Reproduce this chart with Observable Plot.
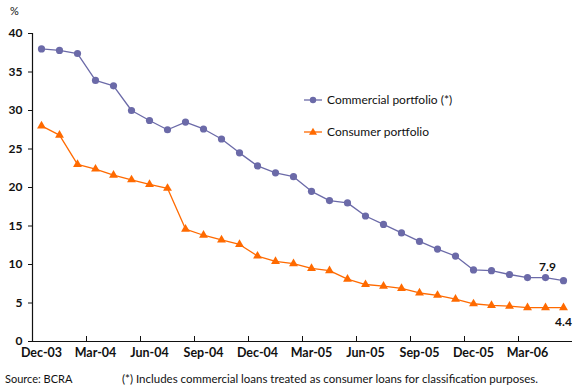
<!DOCTYPE html>
<html>
<head>
<meta charset="utf-8">
<script src="https://cdn.jsdelivr.net/npm/d3@7"></script>
<script src="https://cdn.jsdelivr.net/npm/@observablehq/plot@0.6"></script>
<style>
  html, body { margin: 0; padding: 0; background: #fff; }
  #wrap { position: relative; width: 573px; height: 388px; font-family: Lato, "DejaVu Sans", sans-serif; color: #111; }
  #wrap svg { display: block; }
  .note { position: absolute; font-size: 11px; white-space: nowrap; }
  .legend { position: absolute; left: 303px; font-size: 12px; white-space: nowrap; display: flex; align-items: center; }
  .legend svg { margin-right: 4px; }
</style>
</head>
<body>
<div id="wrap"></div>
<script>
// Monthly observations, Dec-03 to May-06
const months = [
  "Dec-03","Jan-04","Feb-04","Mar-04","Apr-04","May-04","Jun-04","Jul-04","Aug-04","Sep-04",
  "Oct-04","Nov-04","Dec-04","Jan-05","Feb-05","Mar-05","Apr-05","May-05","Jun-05","Jul-05",
  "Aug-05","Sep-05","Oct-05","Nov-05","Dec-05","Jan-06","Feb-06","Mar-06","Apr-06","May-06"
];
// Commercial portfolio (%)
const commercial = [
  38.0, 37.8, 37.4, 33.9, 33.2, 30.0, 28.7, 27.5, 28.5, 27.6,
  26.3, 24.5, 22.8, 21.9, 21.4, 19.5, 18.3, 18.0, 16.3, 15.2,
  14.1, 13.0, 12.0, 11.1, 9.3, 9.2, 8.7, 8.3, 8.3, 7.9
];
// Consumer portfolio (%)
const consumer = [
  28.0, 26.8, 23.0, 22.4, 21.6, 21.0, 20.4, 19.9, 14.6, 13.8,
  13.2, 12.6, 11.1, 10.4, 10.1, 9.5, 9.2, 8.1, 7.4, 7.2,
  6.9, 6.3, 6.0, 5.5, 4.9, 4.7, 4.6, 4.4, 4.4, 4.4
];
const yTicks = [0, 5, 10, 15, 20, 25, 30, 35, 40];
// Quarterly labels on the time axis
const quarterLabels = ["Dec-03","Mar-04","Jun-04","Sep-04","Dec-04","Mar-05","Jun-05","Sep-05","Dec-05","Mar-06"];

const commercialColor = "#6b6aa8";
const consumerColor = "#ff6a00";

const idx = m => months.indexOf(m);
const comData = months.map((m, i) => ({i, v: commercial[i]}));
const conData = months.map((m, i) => ({i, v: consumer[i]}));
const quarterIdx = quarterLabels.map(idx);
const lastCom = comData[comData.length - 1];
const lastCon = conData[conData.length - 1];

const chart = Plot.plot({
  width: 573,
  height: 388,
  marginTop: 33,
  marginBottom: 47,
  marginLeft: 32,
  marginRight: 1,
  style: {fontFamily: "Lato, 'DejaVu Sans', sans-serif", fontSize: "12px", fontWeight: "bold", color: "#111", background: "#fff"},
  x: {domain: [-0.5, months.length - 0.5]},
  y: {domain: [0, 40]},
  marks: [
    Plot.axisY({ticks: yTicks, tickSize: 4, tickPadding: 6, label: null, fontSize: 12, fontWeight: "bold"}),
    Plot.axisX({ticks: quarterIdx, tickFormat: i => months[i], tickSize: 0, tickPadding: 7, label: null, fontSize: 12.5, fontWeight: "bold"}),
    // quarter separators on the time axis, pointing into the plot
    Plot.ruleX(quarterIdx, {x: i => i - 0.5, y1: 0, y2: 0, insetTop: -5, stroke: "#111", strokeWidth: 1}),
    Plot.frame({anchor: "left", stroke: "#111", strokeWidth: 1.2}),
    Plot.ruleY([0], {stroke: "#111", strokeWidth: 1.2}),
    Plot.line(comData, {x: "i", y: "v", stroke: commercialColor, strokeWidth: 1.3}),
    Plot.dot(comData, {x: "i", y: "v", r: 3.6, fill: commercialColor, stroke: null}),
    Plot.line(conData, {x: "i", y: "v", stroke: consumerColor, strokeWidth: 1.3}),
    Plot.dot(conData, {x: "i", y: "v", symbol: "triangle", r: 3.3, fill: consumerColor, stroke: null}),
    Plot.text([lastCom], {x: "i", y: "v", text: d => d.v.toFixed(1), dx: -16, dy: -14, fontSize: 12, fontWeight: "bold", fill: "#111"}),
    Plot.text([lastCon], {x: "i", y: "v", text: d => d.v.toFixed(1), dx: 0, dy: 15, fontSize: 12, fontWeight: "bold", fill: "#111"})
  ]
});

const wrap = document.getElementById("wrap");
wrap.appendChild(chart);

function addNote(text, left, top, extra) {
  const d = document.createElement("div");
  d.className = "note";
  d.textContent = text;
  d.style.left = left + "px";
  d.style.top = top + "px";
  if (extra) Object.assign(d.style, extra);
  wrap.appendChild(d);
}
addNote("%", 10, 4, {fontSize: "11px"});
addNote("Source: BCRA", 5, 372);
addNote("(*) Includes commercial loans treated as consumer loans for classification purposes.", 122, 372, {fontSize: "11.5px"});

function addLegend(label, color, symbol, top) {
  const row = document.createElement("div");
  row.className = "legend";
  row.style.top = top + "px";
  const ns = "http://www.w3.org/2000/svg";
  const s = document.createElementNS(ns, "svg");
  s.setAttribute("width", 20); s.setAttribute("height", 10);
  const ln = document.createElementNS(ns, "line");
  ln.setAttribute("x1", 1); ln.setAttribute("x2", 19); ln.setAttribute("y1", 5); ln.setAttribute("y2", 5);
  ln.setAttribute("stroke", color); ln.setAttribute("stroke-width", 1.3);
  s.appendChild(ln);
  if (symbol === "circle") {
    const c = document.createElementNS(ns, "circle");
    c.setAttribute("cx", 10); c.setAttribute("cy", 5); c.setAttribute("r", 3.2); c.setAttribute("fill", color);
    s.appendChild(c);
  } else {
    const p = document.createElementNS(ns, "path");
    p.setAttribute("d", d3.symbol(d3.symbolTriangle, 28)());
    p.setAttribute("transform", "translate(10,5.5)");
    p.setAttribute("fill", color);
    s.appendChild(p);
  }
  row.appendChild(s);
  const t = document.createElement("span");
  t.textContent = label;
  row.appendChild(t);
  wrap.appendChild(row);
}
addLegend("Commercial portfolio (*)", commercialColor, "circle", 92);
addLegend("Consumer portfolio", consumerColor, "triangle", 124);
</script>
</body>
</html>
